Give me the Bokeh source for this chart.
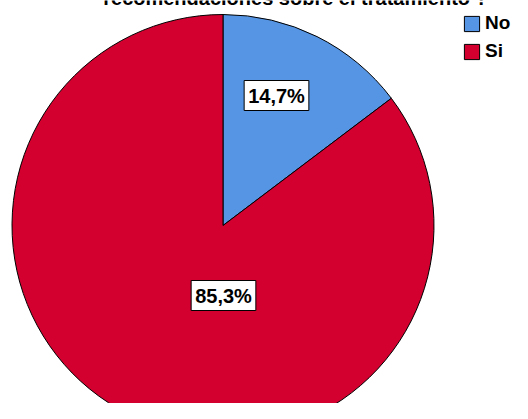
from bokeh.plotting import figure
from bokeh.models import Range1d, Label, Legend, LegendItem, ColumnDataSource
from bokeh.core.properties import value
from bokeh.embed import file_html
from bokeh.resources import INLINE
import math

# ---- data ----
categories = ["No", "Si"]
percentages = [14.7, 85.3]
colors = ["#5595E4", "#D3002F"]
title_text = "recomendaciones sobre el tratamiento ?"

# ---- layout constants (pixels, y measured upward) ----
W, H = 512, 403
CX, CY, R = 222.5, 178.0, 211.0
label_positions = [(276.0, 308.0), (223.0, 108.0)]
FONT = "Liberation Sans"

# angles: start at 12 o'clock, clockwise
starts, ends = [], []
a = math.pi / 2
for pct in percentages:
    starts.append(a)
    a = a - 2 * math.pi * pct / 100.0
    ends.append(a)

src = ColumnDataSource(dict(cat=categories, pct=percentages, color=colors,
                            start=starts, end=ends))

p = figure(width=W, height=H, output_backend="svg", toolbar_location=None,
           x_range=Range1d(0, W), y_range=Range1d(0, H), min_border=0)
p.axis.visible = False
p.grid.visible = False
p.outline_line_color = None
p.background_fill_color = "white"
p.border_fill_color = "white"

wr = p.wedge(x=CX, y=CY, radius=R, start_angle="start", end_angle="end",
             direction="clock", fill_color="color", line_color="black",
             line_width=1, source=src)

for (lx, ly), pct in zip(label_positions, percentages):
    txt = f"{pct:.1f}".replace(".", ",") + "%"
    p.add_layout(Label(x=lx, y=ly, text=txt, text_align="center",
                       text_baseline="middle", text_font=FONT,
                       text_font_size="20px", text_font_style="bold",
                       text_color="black", background_fill_color="white",
                       border_line_color="black", border_line_width=1,
                       padding=4))

# title (second line, partially cut off at the top as in the reference)
p.text(x=[295], y=[H + 3], text=[title_text], text_align="center",
       text_baseline="alphabetic", text_font=value(FONT),
       text_font_size="20px", text_font_style="bold", text_color="black")

items = [LegendItem(label=c, renderers=[wr], index=i) for i, c in enumerate(categories)]
legend = Legend(items=items, location=(462, 341), orientation="vertical",
                glyph_width=19, glyph_height=19, label_height=19,
                label_standoff=4, spacing=6, padding=0, margin=0,
                label_text_font=FONT, label_text_font_size="19px",
                label_text_font_style="bold", label_text_color="black",
                border_line_color=None, background_fill_alpha=0)
p.add_layout(legend)

open("out.html", "w").write(file_html(p, INLINE))
